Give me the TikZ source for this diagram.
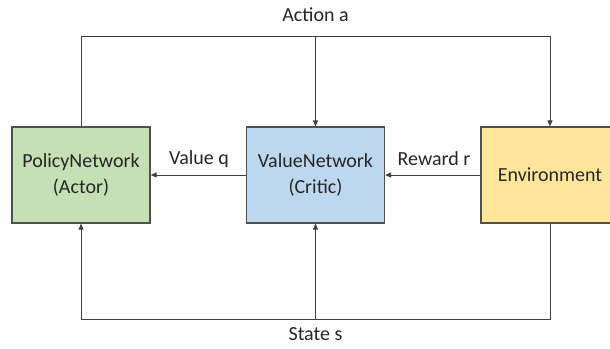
\documentclass[tikz,border=0pt]{standalone}
\usepackage{fontspec}
\setmainfont{Carlito}
\usetikzlibrary{arrows.meta}
\definecolor{actorfill}{HTML}{C5E0B4}
\definecolor{criticfill}{HTML}{BDD7EE}
\definecolor{envfill}{HTML}{FFE699}
\definecolor{edgegray}{HTML}{505050}
\definecolor{wiregray}{HTML}{404040}
\begin{document}
\begin{tikzpicture}[x=1pt,y=-1pt,
  block/.style={draw=edgegray, line width=1.2pt, minimum width=138pt, minimum height=96pt,
    align=center, font=\fontsize{20}{26}\selectfont, text=black!85},
  wire/.style={draw=wiregray, line width=1pt},
  flow/.style={wire, -{Triangle[length=6pt,width=5pt]}},
  lbl/.style={font=\fontsize{20}{24}\selectfont, text=black!85}]
  \useasboundingbox (0,0) rectangle (610,348);
  \begin{scope}
  \clip (0,0) rectangle (610,348);
  % the three blocks
  \node[block, fill=actorfill] (actor) at (81,175) {PolicyNetwork\\(Actor)};
  \node[block, fill=criticfill] (critic) at (315.5,175) {ValueNetwork\\(Critic)};
  \node[block, fill=envfill] (env) at (550,175) {Environment};
  \end{scope}
  % bus corners of the action and state loops
  \coordinate (atop) at (81,36);
  \coordinate (etop) at (550,36);
  \coordinate (abot) at (81,319);
  \coordinate (ebot) at (550,319);
  \coordinate (amid) at (315.5,36);
  \coordinate (smid) at (315.5,319);
  % action a: from the actor to the critic and the environment
  \draw[wire] (actor.north) -- (atop) -- (etop);
  \draw[flow] (etop) -- (env.north);
  \draw[flow] (amid) -- (critic.north);
  % state s: from the environment to the actor and the critic
  \draw[wire] (env.south) -- (ebot) -- (abot);
  \draw[flow] (abot) -- (actor.south);
  \draw[flow] (smid) -- (critic.south);
  % reward and value
  \draw[flow] (env.west) -- (critic.east);
  \draw[flow] (critic.west) -- (actor.east);
  \node[lbl] (la) at (315.5,15) {Action a};
  \node[lbl] (ls) at (315.5,334) {State s};
  \node[lbl] (lq) at (199,159) {Value q};
  \node[lbl] (lr) at (434,159) {Reward r};
\end{tikzpicture}
\end{document}
